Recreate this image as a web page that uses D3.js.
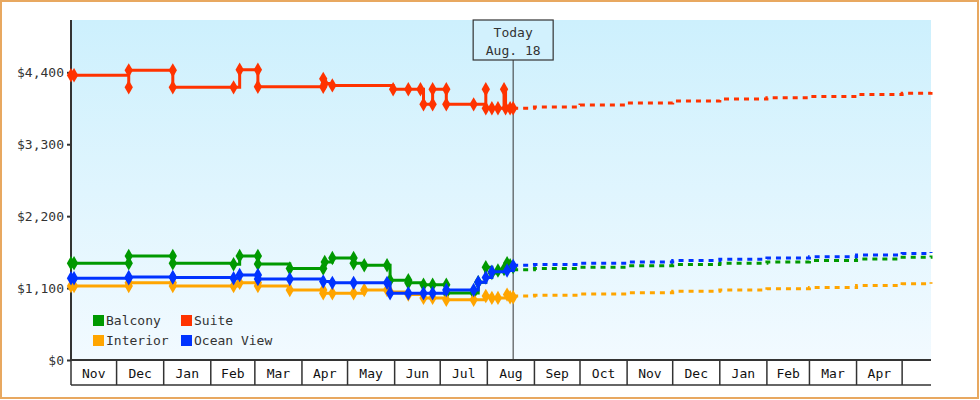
<!DOCTYPE html>
<html>
<head>
<meta charset="utf-8">
<script src="https://cdn.jsdelivr.net/npm/d3@7"></script>
<style>
  body { margin: 0; background: #fff; }
  svg { display: block; font-family: "DejaVu Sans Mono", monospace; }
</style>
</head>
<body>
<svg id="chart" width="980" height="400"></svg>
<script>
// Price history per cabin type (same date repeated = same-day price change)
var balcony = [
  ["2023-11-01",1480],["2023-11-03",1480],["2023-12-09",1480],["2023-12-09",1590],["2024-01-07",1590],["2024-01-07",1480],
  ["2024-02-16",1465],["2024-02-20",1590],["2024-03-03",1590],["2024-03-03",1470],["2024-03-24",1400],["2024-04-15",1400],
  ["2024-04-16",1500],["2024-04-21",1560],["2024-05-05",1560],["2024-05-05",1480],["2024-05-12",1450],["2024-05-27",1450],
  ["2024-05-29",1220],["2024-06-10",1220],["2024-06-10",1180],["2024-06-20",1150],["2024-06-26",1150],["2024-07-05",1150],
  ["2024-07-05",1025],["2024-07-23",1025],["2024-07-26",1190],["2024-07-31",1420],["2024-08-04",1330],["2024-08-08",1370],
  ["2024-08-12",1390],["2024-08-14",1480],["2024-08-16",1450],["2024-08-18",1420]
];
var interior = [
  ["2023-11-01",1130],["2023-11-03",1130],["2023-12-09",1130],["2023-12-09",1180],["2024-01-07",1180],["2024-01-07",1130],
  ["2024-02-16",1130],["2024-02-20",1180],["2024-03-03",1180],["2024-03-03",1130],["2024-03-24",1070],["2024-04-15",1070],
  ["2024-04-15",1020],["2024-04-21",1020],["2024-05-05",1020],["2024-05-12",1070],["2024-05-27",1070],["2024-05-29",1040],
  ["2024-06-10",1000],["2024-06-20",950],["2024-06-26",950],["2024-07-05",920],["2024-07-23",920],["2024-07-31",980],
  ["2024-08-04",950],["2024-08-08",950],["2024-08-14",1000],["2024-08-16",960],["2024-08-18",960]
];
var oceanView = [
  ["2023-11-01",1250],["2023-11-03",1250],["2023-12-09",1250],["2023-12-09",1270],["2024-01-07",1270],["2024-01-07",1260],
  ["2024-02-16",1250],["2024-02-20",1300],["2024-03-03",1300],["2024-03-03",1240],["2024-03-24",1240],["2024-04-15",1200],
  ["2024-04-21",1180],["2024-05-05",1180],["2024-05-27",1180],["2024-05-29",1020],["2024-06-10",1020],["2024-06-20",1020],
  ["2024-06-26",1020],["2024-07-05",1070],["2024-07-23",1070],["2024-07-26",1190],["2024-07-31",1260],["2024-08-04",1350],
  ["2024-08-14",1370],["2024-08-18",1440]
];
var suite = [
  ["2023-11-01",4355],["2023-11-03",4355],["2023-12-09",4170],["2023-12-09",4430],["2024-01-07",4430],["2024-01-07",4170],
  ["2024-02-16",4170],["2024-02-20",4440],["2024-03-03",4440],["2024-03-03",4180],["2024-04-15",4180],["2024-04-15",4300],
  ["2024-04-16",4230],["2024-04-21",4200],["2024-05-31",4140],["2024-06-10",4140],["2024-06-18",4140],["2024-06-20",3910],
  ["2024-06-26",3910],["2024-06-26",4140],["2024-07-05",4140],["2024-07-05",3910],["2024-07-23",3910],["2024-07-31",4140],
  ["2024-07-31",3850],["2024-08-04",3850],["2024-08-08",3850],["2024-08-12",4140],["2024-08-13",3850],["2024-08-16",3850],
  ["2024-08-18",3850]
];

// Forecast (dashed)
var futureDates = ["2024-08-18","2024-09-01","2024-10-01","2024-11-01","2024-12-01","2025-01-01","2025-02-01","2025-03-01","2025-04-01","2025-05-01","2025-05-20"];
var balconyFuture  = [1380,1400,1420,1440,1460,1480,1500,1520,1545,1570,1600];
var interiorFuture = [980,990,1010,1030,1050,1070,1090,1110,1140,1165,1190];
var oceanFuture    = [1450,1460,1480,1500,1520,1540,1560,1580,1605,1630,1650];
var suiteFuture    = [3850,3870,3900,3930,3960,3990,4010,4030,4060,4080,4100];

var yTicks = [0, 1100, 2200, 3300, 4400];
var today = "2024-08-18";

var series = [
  { name: "Balcony",    color: "#009900", past: balcony,   future: balconyFuture },
  { name: "Suite",      color: "#ff3300", past: suite,     future: suiteFuture },
  { name: "Interior",   color: "#ffa500", past: interior,  future: interiorFuture },
  { name: "Ocean View", color: "#0033ff", past: oceanView, future: oceanFuture }
];

var parse = d3.timeParse("%Y-%m-%d");
var plotLeft = 71, plotRight = 931, plotTop = 20, plotBottom = 360;

var svg = d3.select("#chart");

// page border
svg.append("rect").attr("x", 1).attr("y", 1).attr("width", 977).attr("height", 397)
  .attr("fill", "none").attr("stroke", "#e8a860").attr("stroke-width", 2);

var defs = svg.append("defs");
var grad = defs.append("linearGradient").attr("id", "bg").attr("x1", 0).attr("y1", 0).attr("x2", 0).attr("y2", 1);
grad.append("stop").attr("offset", "0%").attr("stop-color", "#cdf0fd");
grad.append("stop").attr("offset", "100%").attr("stop-color", "#f2faff");

svg.append("rect").attr("x", plotLeft).attr("y", plotTop).attr("width", plotRight - plotLeft).attr("height", plotBottom - plotTop)
  .attr("fill", "url(#bg)");

var x = d3.scaleTime().domain([parse("2023-11-01"), parse("2025-05-20")]).range([plotLeft, plotRight]);
var y = d3.scaleLinear().domain([0, 5200]).range([plotBottom, plotTop]);

// y axis
var yAxis = svg.append("g").attr("transform", `translate(${plotLeft},0)`)
  .call(d3.axisLeft(y).tickValues(yTicks).tickSize(4).tickFormat(d => "$" + d3.format(",")(d)));
yAxis.select(".domain").attr("d", `M0,${plotTop}V${plotBottom}`).attr("stroke", "#333").attr("stroke-width", 2);
yAxis.selectAll(".tick line").attr("stroke", "#333").attr("stroke-width", 2);
yAxis.selectAll("text").attr("font-family", "DejaVu Sans Mono").attr("font-size", 13).attr("fill", "#333");

// month boxes under the axis
var months = d3.timeMonth.range(parse("2023-11-01"), parse("2025-06-01"));
var cells = svg.append("g");
cells.append("line").attr("x1", plotLeft).attr("x2", plotRight).attr("y1", plotBottom).attr("y2", plotBottom)
  .attr("stroke", "#333").attr("stroke-width", 2);
cells.append("line").attr("x1", plotLeft).attr("x2", plotRight).attr("y1", 385).attr("y2", 385)
  .attr("stroke", "#333").attr("stroke-width", 1.5);
months.forEach(function (m) {
  var x0 = x(m), x1 = Math.min(x(d3.timeMonth.offset(m, 1)), plotRight);
  if (x0 >= plotRight) return;
  cells.append("line").attr("x1", x0).attr("x2", x0).attr("y1", plotBottom).attr("y2", 385)
    .attr("stroke", "#333").attr("stroke-width", 1.5);
  if (x1 - x0 > 35) {
    cells.append("text").attr("x", (x0 + x1) / 2).attr("y", 378).attr("text-anchor", "middle")
      .attr("font-size", 13).attr("fill", "#111").text(d3.timeFormat("%b")(m));
  }
});

// today marker
var tx = x(parse(today));
svg.append("line").attr("x1", tx).attr("x2", tx).attr("y1", 60).attr("y2", plotBottom)
  .attr("stroke", "#333").attr("stroke-width", 1);
svg.append("rect").attr("x", tx - 40).attr("y", 20).attr("width", 80).attr("height", 40)
  .attr("fill", "#d2f1fd").attr("stroke", "#333").attr("stroke-width", 1.2);
svg.append("text").attr("x", tx).attr("y", 37).attr("text-anchor", "middle").attr("font-size", 13).attr("fill", "#333").text("Today");
svg.append("text").attr("x", tx).attr("y", 55).attr("text-anchor", "middle").attr("font-size", 13).attr("fill", "#333").text("Aug. 18");

var line = d3.line().x(d => x(parse(d[0]))).y(d => y(d[1])).curve(d3.curveStepAfter);

series.forEach(function (s) {
  var fut = futureDates.map((d, i) => [d, s.future[i]]);
  svg.append("path").datum(fut).attr("d", line).attr("fill", "none")
    .attr("stroke", s.color).attr("stroke-width", 3).attr("stroke-dasharray", "5,5");
  svg.append("path").datum(s.past).attr("d", line).attr("fill", "none")
    .attr("stroke", s.color).attr("stroke-width", 3);
  svg.append("g").selectAll("path").data(s.past).enter().append("path")
    .attr("d", d3.symbol().type(d3.symbolDiamond).size(60))
    .attr("transform", d => `translate(${x(parse(d[0]))},${y(d[1])})`)
    .attr("fill", s.color);
});

// legend
var legend = svg.append("g");
series.forEach(function (s, i) {
  var lx = 93 + (i % 2) * 88, ly = 315 + Math.floor(i / 2) * 20;
  legend.append("rect").attr("x", lx).attr("y", ly).attr("width", 11).attr("height", 11).attr("fill", s.color);
  legend.append("text").attr("x", lx + 13).attr("y", ly + 10).attr("font-size", 13).attr("fill", "#333").text(s.name);
});
</script>
</body>
</html>
